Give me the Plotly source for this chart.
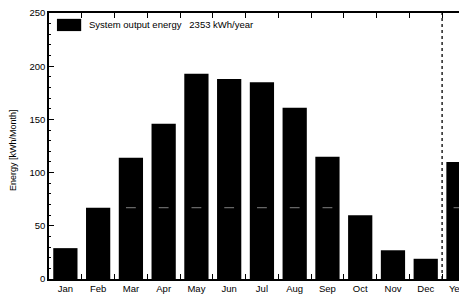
import plotly.graph_objects as go

months = ["Jan", "Feb", "Mar", "Apr", "May", "Jun", "Jul", "Aug", "Sep", "Oct", "Nov", "Dec", "Year"]
energy = [29, 67, 114, 146, 193, 188, 185, 161, 115, 60, 27, 19, 110]
needs_level = 67
legend_label = "System output energy   2353 kWh/year"
y_title = "Energy [kWh/Month]"
y_ticks = [0, 50, 100, 150, 200, 250]

xs = list(range(len(months)))
fam = "Liberation Sans, Arial, sans-serif"
font = dict(family=fam, size=9.5, color="black")

fig = go.Figure()
fig.add_trace(go.Bar(x=xs, y=energy, width=0.74, marker=dict(color="black", line=dict(width=0)),
                     showlegend=False, hoverinfo="skip"))
# faint needs marks inside bars
nx = [x for x, v in zip(xs, energy) if v > needs_level]
fig.add_trace(go.Scatter(x=nx, y=[needs_level] * len(nx), mode="markers",
                         marker=dict(symbol="line-ew", size=7, line=dict(color="#808080", width=1)),
                         showlegend=False, hoverinfo="skip"))
# invisible trace to attach xaxis2
fig.add_trace(go.Scatter(x=[0], y=[0], xaxis="x2", mode="markers", marker=dict(opacity=0),
                         showlegend=False, hoverinfo="skip"))

xr = [-0.5, 12.26]
fig.update_layout(
    width=467, height=296,
    # page has an 8px body margin; offsets compensate for it
    margin=dict(l=41, r=8, t=5, b=25),
    paper_bgcolor="white", plot_bgcolor="white",
    font=font,
    xaxis=dict(range=xr, tickmode="array", tickvals=xs, ticktext=months, ticks="",
               showline=True, linecolor="black", linewidth=1.5, showgrid=False, zeroline=False,
               tickfont=font, automargin=False, ticklabeloverflow="allow"),
    xaxis2=dict(range=xr, overlaying="x", side="bottom", tickmode="array",
                tickvals=[i + 0.5 for i in range(12)], ticks="inside", ticklen=5, tickwidth=1.2,
                tickcolor="black", showticklabels=False, showline=True, linecolor="black",
                linewidth=1.5, mirror="ticks", showgrid=False, zeroline=False, automargin=False),
    yaxis=dict(range=[0, 250], tickmode="array", tickvals=y_ticks, ticks="inside", ticklen=5,
               tickwidth=1.2, tickcolor="black", showline=True, linecolor="black", linewidth=1.5,
               showgrid=False, zeroline=False, tickfont=font, automargin=False,
               ticklabeloverflow="allow",
               minor=dict(dtick=10, ticks="inside", ticklen=2, tickcolor="black")),
    bargap=0.26,
)
fig.add_annotation(xref="paper", yref="paper", x=-36 / 418, y=0.485, text=y_title, textangle=-90,
                   showarrow=False, xanchor="center", yanchor="middle",
                   font=dict(family=fam, size=9, color="black"))
fig.add_shape(type="line", xref="x", yref="y", x0=11.5, x1=11.5, y0=0, y1=250,
              line=dict(color="black", width=1.3, dash="dot"))
fig.add_shape(type="rect", xref="paper", yref="y", x0=0.019, x1=0.077, y0=233, y1=244.5,
              fillcolor="black", line=dict(width=0))
fig.add_annotation(xref="paper", yref="y", x=0.091, y=239, text=legend_label, showarrow=False,
                   xanchor="left", yanchor="middle", font=dict(family=fam, size=9.5, color="black"))

fig.write_html("out.html")
